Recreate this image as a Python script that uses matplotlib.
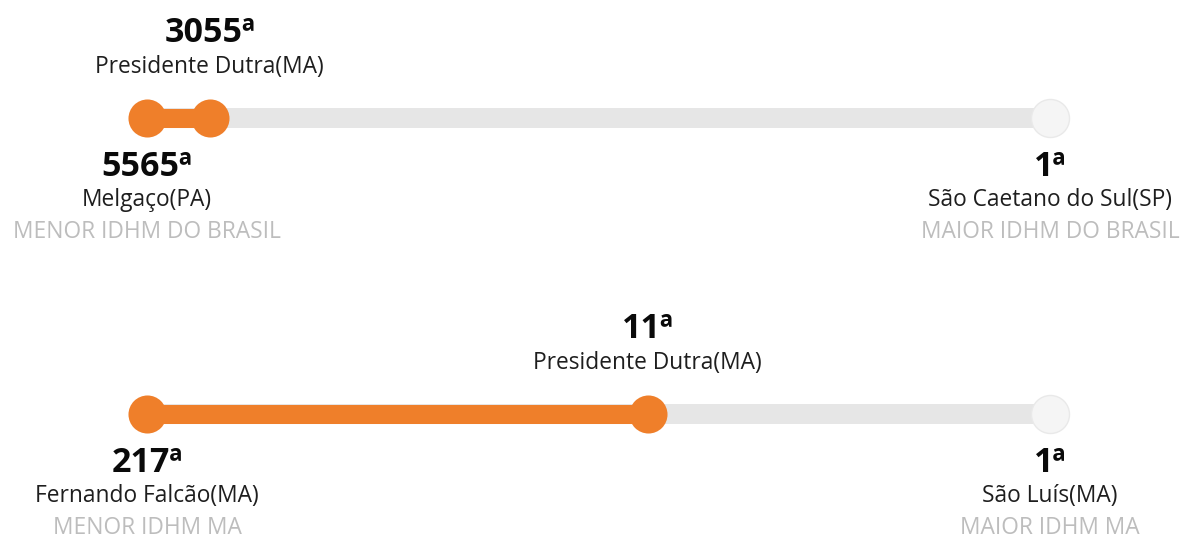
import matplotlib
matplotlib.use("Agg")
import matplotlib.pyplot as plt

plt.rcParams['font.family'] = ['Open Sans', 'DejaVu Sans']

# Data
panel_titles_low = ["MENOR IDHM DO BRASIL", "MENOR IDHM MA"]
panel_titles_high = ["MAIOR IDHM DO BRASIL", "MAIOR IDHM MA"]
low_names = ["Melgaço(PA)", "Fernando Falcão(MA)"]
low_ranks = [5565, 217]
high_names = ["São Caetano do Sul(SP)", "São Luís(MA)"]
high_ranks = [1, 1]
city_name = "Presidente Dutra(MA)"
city_ranks = [3055, 11]

W, H = 1183, 538
fig = plt.figure(figsize=(W / 100, H / 100), dpi=100)
fig.patch.set_facecolor("white")

ORANGE = "#EF7F2A"
TRACK = "#E6E6E6"
x0, x1 = 147 / W, 1050 / W

bar_y = [118, 414]
for i in range(2):
    ax = fig.add_axes([x0, 0, x1 - x0, 1])
    ax.set_xscale("log")
    ax.set_xlim(low_ranks[i], high_ranks[i])
    ax.set_ylim(H, 0)
    ax.axis("off")
    y = bar_y[i]
    ax.plot([low_ranks[i], high_ranks[i]], [y, y], color=TRACK, lw=14.4,
            solid_capstyle="butt", clip_on=False, zorder=1)
    ax.plot([low_ranks[i], city_ranks[i]], [y, y], color=ORANGE, lw=13.7,
            solid_capstyle="butt", clip_on=False, zorder=2)
    ax.scatter([high_ranks[i]], [y], s=750, color="#F5F5F5", edgecolor="#E9E9E9",
               linewidth=1, clip_on=False, zorder=3)
    ax.scatter([low_ranks[i], city_ranks[i]], [y, y], s=750, color=ORANGE,
               linewidth=0, clip_on=False, zorder=4)

    # city label above
    ax.text(city_ranks[i], y - 76, f"{city_ranks[i]}ª", ha="center", va="baseline",
            fontsize=24.5, fontweight="bold", color="#0A0A0A", clip_on=False)
    ax.text(city_ranks[i], y - 45, city_name, ha="center", va="baseline",
            fontsize=16.4, color="#1E1E1E", clip_on=False)
    # end labels
    for rk, nm, ttl in [(low_ranks[i], low_names[i], panel_titles_low[i]),
                        (high_ranks[i], high_names[i], panel_titles_high[i])]:
        ax.text(rk, y + 57.5, f"{rk}ª", ha="center", va="baseline",
                fontsize=24.5, fontweight="bold", color="#0A0A0A", clip_on=False)
        ax.text(rk, y + 88, nm, ha="center", va="baseline",
                fontsize=16.4, color="#1E1E1E", clip_on=False)
        ax.text(rk, y + 119.5, ttl, ha="center", va="baseline",
                fontsize=16.4, color="#BDBDBD", clip_on=False)

fig.savefig("out.png", dpi=100, facecolor="white")
